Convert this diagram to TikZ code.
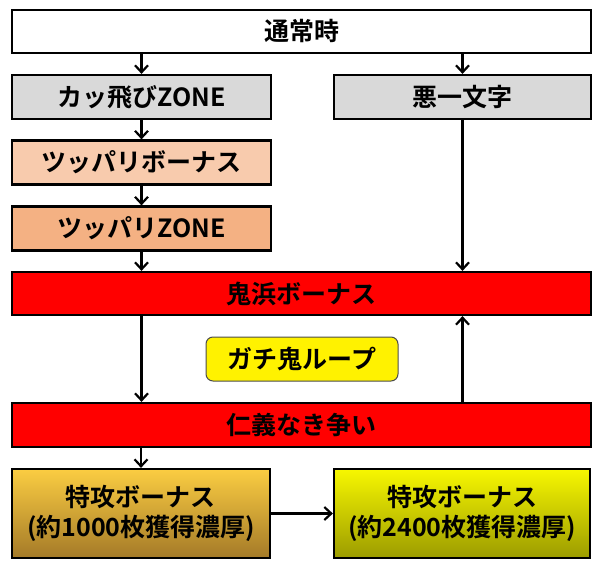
\documentclass[tikz,border=0pt]{standalone}
\usepackage{fontspec}
\setmainfont{Noto Sans CJK JP}[BoldFont={* Bold}]
\usetikzlibrary{arrows.meta}
\definecolor{grayfill}{HTML}{D9D9D9}
\definecolor{peach}{HTML}{F8CBAD}
\definecolor{apricot}{HTML}{F4B183}
\definecolor{goldtop}{HTML}{FBCD42}
\definecolor{goldbot}{HTML}{A47A28}
\definecolor{yeltop}{HTML}{F7F700}
\definecolor{yelbot}{HTML}{9C9C00}
\tikzset{
  box/.style={draw=black, line width=2.2pt, rectangle, inner sep=0pt,
    font=\fontsize{25}{30}\selectfont\bfseries, align=center},
  conn/.style={line width=2.2pt, -{Straight Barb[length=7pt,width=13pt,line width=2.2pt]}},
}
\begin{document}
\begin{tikzpicture}[x=1pt,y=-1pt]
\useasboundingbox (0,0) rectangle (605,567);
\node[box, fill=white, minimum width=579pt, minimum height=43pt] (normal) at (301.5,31.5) {通常時};
\node[box, fill=grayfill, minimum width=259pt, minimum height=44pt] (kattobi) at (141.5,97) {カッ飛びZONE};
\node[box, fill=grayfill, minimum width=257pt, minimum height=44pt] (aku) at (462.5,97) {悪一文字};
\node[box, fill=peach, minimum width=259pt, minimum height=44pt] (tsuppabonus) at (141.5,162.5) {ツッパリボーナス};
\node[box, fill=apricot, minimum width=259pt, minimum height=44pt] (tsuppazone) at (141.5,228.5) {ツッパリZONE};
\node[box, fill=red, minimum width=579pt, minimum height=43pt] (onihama) at (301.5,293.5) {鬼浜ボーナス};
\node[box, fill=yellow, draw=black!70, line width=1pt, rounded corners=7pt, minimum width=192pt, minimum height=44pt] (gachi) at (302,359) {ガチ鬼ループ};
\node[box, fill=red, minimum width=579pt, minimum height=44pt] (jingi) at (301.5,425) {仁義なき争い};
\node[box, top color=goldtop, bottom color=goldbot, minimum width=258pt, minimum height=89pt] (tokko1) at (141,513.5) {特攻ボーナス\\(約1000枚獲得濃厚)};
\node[box, top color=yeltop, bottom color=yelbot, minimum width=256pt, minimum height=89pt] (tokko2) at (462,513.5) {特攻ボーナス\\(約2400枚獲得濃厚)};

\draw[conn] (normal.south -| kattobi.north) -- (kattobi.north);
\draw[conn] (normal.south -| aku.north) -- (aku.north);
\draw[conn] (kattobi.south) -- (tsuppabonus.north);
\draw[conn] (tsuppabonus.south) -- (tsuppazone.north);
\draw[conn] (tsuppazone.south) -- (onihama.north -| tsuppazone.south);
\draw[conn] (aku.south) -- (onihama.north -| aku.south);
\draw[conn] (onihama.south -| tsuppazone.south) -- (jingi.north -| tsuppazone.south);
\draw[conn] (jingi.north -| aku.south) -- (onihama.south -| aku.south);
\draw[conn] (jingi.south -| tokko1.north) -- (tokko1.north);
\draw[conn] (tokko1.east) -- (tokko2.west);
\end{tikzpicture}
\end{document}
